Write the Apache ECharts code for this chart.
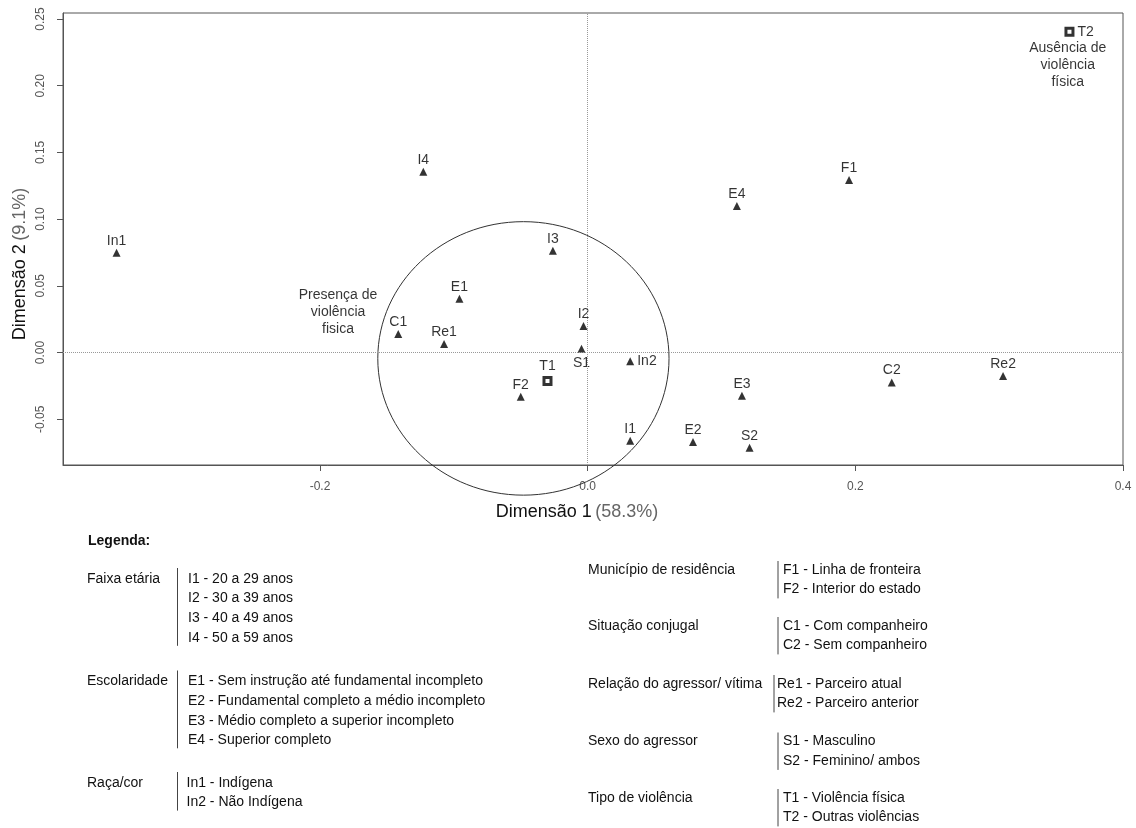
<!DOCTYPE html>
<html>
<head>
<meta charset="utf-8">
<script src="https://cdn.jsdelivr.net/npm/echarts@6/dist/echarts.min.js"></script>
<style>
html, body { margin: 0; padding: 0; background: #fff; }
#chart { width: 1136px; height: 828px; }
</style>
</head>
<body>
<div id="chart"></div>
<script>
// categorias (triangulos)
var pointNames = ['In1', 'I4', 'I3', 'E1', 'C1', 'Re1', 'I2', 'S1', 'In2', 'F2', 'I1', 'E2', 'E3', 'S2', 'E4', 'F1', 'C2', 'Re2'];
var dim1 = [-0.352, -0.1228, -0.026, -0.0958, -0.1415, -0.1073, -0.0031, -0.0046, 0.0318, -0.050, 0.0318, 0.0787, 0.1153, 0.121, 0.1115, 0.1953, 0.2272, 0.3104];
var dim2 = [0.0748, 0.1355, 0.0763, 0.0403, 0.0139, 0.0064, 0.0199, 0.0029, -0.0066, -0.0331, -0.0661, -0.0671, -0.0324, -0.0714, 0.1098, 0.1293, -0.0224, -0.0176];

// tipo de violencia (quadrados)
var typeNames = ['T1', 'T2'];
var typeDim1 = [-0.030, 0.360];
var typeDim2 = [-0.0214, 0.2405];

// anotacoes
var notes = ['Presença de\nviolência\nfisica', 'Ausência de\nviolência\nfísica'];
var noteDim1 = [-0.1865, 0.3587];
var noteDim2 = [0.0306, 0.2157];

// elipse: centro x, centro y, raio x, raio y
var ellipse = [-0.048, -0.0044, 0.1088, 0.1025];

var xTicks = [-0.2, 0.0, 0.2, 0.4];
var yTicks = [-0.05, 0.00, 0.05, 0.10, 0.15, 0.20, 0.25];

// legenda
var leftTitles = ['Faixa etária', 'Escolaridade', 'Raça/cor'];
var leftItems = [
    ['I1 - 20 a 29 anos', 'I2 - 30 a 39 anos', 'I3 - 40 a 49 anos', 'I4 - 50 a 59 anos'],
    ['E1 - Sem instrução até fundamental incompleto', 'E2 - Fundamental completo a médio incompleto', 'E3 - Médio completo a superior incompleto', 'E4 - Superior completo'],
    ['In1 - Indígena', 'In2 - Não Indígena']
];
var rightTitles = ['Município de residência', 'Situação conjugal', 'Relação do agressor/ vítima', 'Sexo do agressor', 'Tipo de violência'];
var rightItems = [
    ['F1 - Linha de fronteira', 'F2 - Interior do estado'],
    ['C1 - Com companheiro', 'C2 - Sem companheiro'],
    ['Re1 - Parceiro atual', 'Re2 - Parceiro anterior'],
    ['S1 - Masculino', 'S2 - Feminino/ ambos'],
    ['T1 - Violência física', 'T2 - Outras violências']
];

var FONT = "'Liberation Sans', Arial, sans-serif";
var chart = echarts.init(document.getElementById('chart'));

// posicao do rotulo (padrao: acima)
var labelPos = { In2: 'right', S1: 'bottom' };

var points = pointNames.map(function(n, i) {
    var p = labelPos[n] || 'top';
    return {
        name: n,
        value: [dim1[i], dim2[i]],
        label: { position: p, distance: p === 'top' ? 1 : 3 }
    };
});
var types = typeNames.map(function(n, i) {
    return {
        name: n,
        value: [typeDim1[i], typeDim2[i]],
        label: { position: i === 0 ? 'top' : 'right', distance: 3 }
    };
});
var noteData = notes.map(function(t, i) {
    return { name: t, value: [noteDim1[i], noteDim2[i]] };
});

// legenda como texto
var graphics = [];
function txt(x, y, s, extra) {
    var st = { text: s, x: x, y: y, font: '14px ' + FONT, fill: '#111', verticalAlign: 'middle' };
    for (var k in extra) st[k] = extra[k];
    graphics.push({ type: 'text', silent: true, style: st });
}
function bar(x, y1, y2) {
    graphics.push({ type: 'line', silent: true, shape: { x1: x, y1: y1, x2: x, y2: y2 }, style: { stroke: '#444', lineWidth: 1 } });
}
txt(88, 541, 'Legenda:', { font: 'bold 14px ' + FONT });

var leftY = [579, 681.5, 783];
leftTitles.forEach(function(t, g) {
    txt(87, leftY[g], t);
    leftItems[g].forEach(function(s, j) {
        txt(g === 2 ? 186.5 : 188, leftY[g] + j * 19.6, s);
    });
    bar(177.5, leftY[g] - 11, leftY[g] + (leftItems[g].length - 1) * 19.6 + 8);
});
var rightY = [570, 626, 684, 741.5, 798];
rightTitles.forEach(function(t, g) {
    txt(588, rightY[g], t);
    rightItems[g].forEach(function(s, j) {
        txt(g === 2 ? 777 : 783, rightY[g] + j * 19.4, s);
    });
    bar(g === 2 ? 774 : 778, rightY[g] - 9, rightY[g] + (rightItems[g].length - 1) * 19.4 + 9);
});

// titulos dos eixos
graphics.push({
    type: 'text', silent: true,
    style: {
        text: '{a|Dimensão 1} {b|(58.3%)}', x: 577, y: 512, align: 'center', verticalAlign: 'middle',
        rich: { a: { fontSize: 18, fontFamily: FONT, fill: '#111' }, b: { fontSize: 18, fontFamily: FONT, fill: '#666' } }
    }
});
graphics.push({
    type: 'text', silent: true, x: 20, y: 264, rotation: Math.PI / 2,
    style: {
        text: '{a|Dimensão 2} {b|(9.1%)}', x: 0, y: 0, align: 'center', verticalAlign: 'middle',
        rich: { a: { fontSize: 18, fontFamily: FONT, fill: '#111' }, b: { fontSize: 18, fontFamily: FONT, fill: '#666' } }
    }
});

chart.setOption({
    backgroundColor: '#fff',
    animation: false,
    grid: { left: 63, right: 13, top: 13, bottom: 363, show: true, borderColor: '#555', borderWidth: 1 },
    xAxis: {
        type: 'value', min: -0.392, max: 0.4,
        axisLine: { show: true, onZero: false, lineStyle: { color: '#555' } },
        axisTick: { show: true, length: 6, customValues: xTicks, lineStyle: { color: '#555' } },
        axisLabel: {
            customValues: xTicks, margin: 16, color: '#555', fontSize: 12, fontFamily: FONT,
            formatter: function(v) { return v.toFixed(1); }
        },
        splitLine: { show: false }
    },
    yAxis: {
        type: 'value', min: -0.0843, max: 0.2545,
        axisLine: { show: true, onZero: false, lineStyle: { color: '#555' } },
        axisTick: { show: true, length: 6, customValues: yTicks, lineStyle: { color: '#555' } },
        axisLabel: {
            customValues: yTicks, margin: 16, rotate: 90, color: '#555', fontSize: 12, fontFamily: FONT,
            formatter: function(v) { return v.toFixed(2); }
        },
        splitLine: { show: false }
    },
    graphic: graphics,
    series: [
        {
            type: 'custom',
            clip: false,
            silent: true,
            data: [ellipse],
            renderItem: function(params, api) {
                var c = api.coord([api.value(0), api.value(1)]);
                var e = api.coord([api.value(0) + api.value(2), api.value(1) + api.value(3)]);
                return {
                    type: 'ellipse',
                    shape: { cx: c[0], cy: c[1], rx: e[0] - c[0], ry: c[1] - e[1] },
                    style: { fill: 'none', stroke: '#333', lineWidth: 1 }
                };
            },
            z: 1
        },
        {
            type: 'scatter',
            symbol: 'triangle',
            symbolSize: 8,
            itemStyle: { color: '#000' },
            label: { show: true, formatter: '{b}', color: '#000', fontSize: 14, fontFamily: FONT },
            data: points,
            markLine: {
                silent: true, symbol: 'none', label: { show: false },
                lineStyle: { color: '#999', type: 'dotted', width: 1 },
                data: [{ xAxis: 0 }, { yAxis: 0 }]
            },
            z: 3
        },
        {
            type: 'scatter',
            symbol: 'rect',
            symbolSize: 7,
            itemStyle: { color: '#fff', borderColor: '#000', borderWidth: 3 },
            label: { show: true, formatter: '{b}', color: '#000', fontSize: 14, fontFamily: FONT },
            data: types,
            z: 4
        },
        {
            type: 'scatter',
            symbolSize: 0,
            silent: true,
            label: {
                show: true, position: 'inside', formatter: '{b}', align: 'center',
                color: '#000', fontSize: 14, lineHeight: 17, fontFamily: FONT,
                textBorderWidth: 0
            },
            data: noteData,
            z: 4
        }
    ]
});
</script>
</body>
</html>
